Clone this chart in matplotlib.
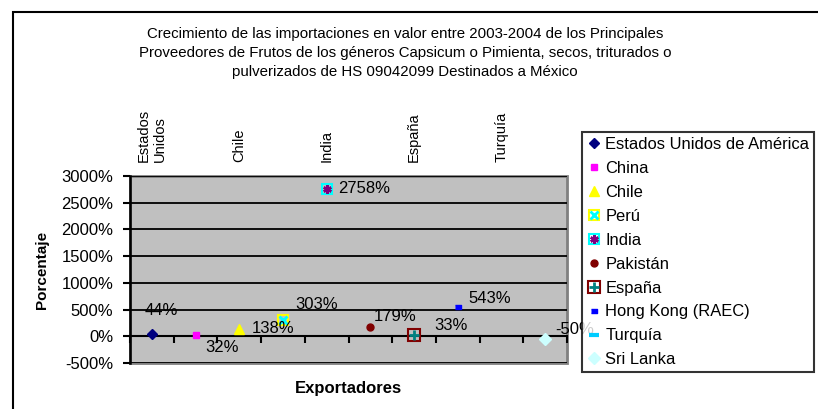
import numpy as np
import matplotlib
matplotlib.use('Agg')
import matplotlib.pyplot as plt
from matplotlib.lines import Line2D
from matplotlib.patches import Rectangle
from matplotlib.legend_handler import HandlerTuple

plt.rcParams['font.family'] = ['Liberation Sans', 'DejaVu Sans']

# data
countries = ['Estados Unidos de América', 'China', 'Chile', 'Perú', 'India',
             'Pakistán', 'España', 'Hong Kong (RAEC)', 'Turquía', 'Sri Lanka']
growth = [44, 32, 138, 303, 2758, 179, 33, 543, np.nan, -50]
axis_names = ['Estados\nUnidos', 'China', 'Chile', 'Perú', 'India',
              'Pakistán', 'España', 'Hong Kong', 'Turquía', 'Sri Lanka']
y_ticks = [-500, 0, 500, 1000, 1500, 2000, 2500, 3000]

title = ('Crecimiento de las importaciones en valor entre 2003-2004 de los Principales\n'
         'Proveedores de Frutos de los géneros Capsicum o Pimienta, secos, triturados o\n'
         'pulverizados de HS 09042099 Destinados a México')

# marker styles per series: list of (marker, size, face, edge, edgewidth)
styles = [
    [('D', 5.5, '#000080', '#000080', 1)],
    [('s', 5, '#FF00FF', '#FF00FF', 1)],
    [('^', 7, '#FFFF00', '#FFFF00', 1)],
    [('s', 7, 'none', '#FFFF00', 1.5), ('x', 5.5, '#00FFFF', '#00FFFF', 2)],
    [('s', 7.5, 'none', '#00FFFF', 1.5), ((6, 2, 0), 6, '#800080', '#800080', 1.8)],
    [('o', 5, '#800000', '#800000', 1)],
    [('s', 8, 'none', '#800000', 1.5), ('+', 6.5, '#008080', '#008080', 2)],
    [([(-1, -0.6), (1, -0.6), (1, 0.6), (-1, 0.6)], 5, '#0000FF', '#0000FF', 1)],
    [('_', 7, '#00CCFF', '#00CCFF', 3)],
    [('D', 6, '#CCFFFF', '#CCFFFF', 1)],
]
# label offsets in pixels (dx, dy)
label_off = [(9, 23), (27, -13), (34, 0), (34, 16), (37, 0),
             (25, 10), (37, 9), (32, 9), (0, 0), (30, 9)]

W, H = 818, 409
fig = plt.figure(figsize=(W / 100, H / 100), dpi=100)
fig.patch.set_facecolor('white')

ax = fig.add_axes([130 / W, 1 - 363 / H, 437 / W, 187 / H])
ax.set_facecolor('#C0C0C0')
ax.set_xlim(-0.5, 9.5)
ax.set_ylim(-500, 3000)

ax.set_yticks(y_ticks)
ax.set_yticklabels([f'{t}%' for t in y_ticks])
ax.tick_params(axis='y', direction='out', length=5, width=1.5, labelsize=12, pad=7)
for t in y_ticks:
    ax.axhline(t, color='black', lw=1.3, zorder=1)

for s in ['top', 'right']:
    ax.spines[s].set_visible(False)
ax.spines['left'].set_linewidth(1.8)
ax.spines['bottom'].set_position(('data', 0))
ax.spines['bottom'].set_linewidth(1.5)
ax.set_xticks(np.arange(-0.5, 10, 1))
ax.set_xticklabels([])
ax.tick_params(axis='x', direction='out', length=5, width=1.5)
ax.add_patch(Rectangle((0, 0), 1, 1, transform=ax.transAxes, fill=False,
                       ec='#808080', lw=2, zorder=0.5, clip_on=False))

top = ax.secondary_xaxis('top')
top.set_xticks(np.arange(0, 10, 2))
top.set_xticklabels(axis_names[::2], rotation=90, fontsize=10.5)
top.tick_params(length=0, pad=10)
for lab in top.get_xticklabels():
    lab.set_multialignment('left')
top.spines['top'].set_visible(False)

x = np.arange(len(countries))
for i, (v, st) in enumerate(zip(growth, styles)):
    if np.isnan(v):
        continue
    for m, ms, fc, ec, mew in st:
        ax.plot(x[i], v, marker=m, ms=ms, mfc=fc, mec=ec, mew=mew, ls='none',
                zorder=3, clip_on=False)
    dx, dy = label_off[i]
    ax.annotate(f'{v:.0f}%', (x[i], v), xytext=(dx * 0.72, dy * 0.72),
                textcoords='offset points', ha='center', va='center', fontsize=12,
                zorder=4)

fig.text(42 / W, 1 - 270 / H, 'Porcentaje', rotation=90, ha='center', va='center',
         fontsize=11, fontweight='bold')
fig.text(348 / W, 1 - 389 / H, 'Exportadores', ha='center', va='center',
         fontsize=12, fontweight='bold')
fig.text(405 / W, 1 - 53 / H, title, ha='center', va='center', fontsize=10.8,
         linespacing=1.42)

fig.patches.append(Rectangle((13 / W, -0.1), 1.2, 1.1 - 12 / H, transform=fig.transFigure,
                             fill=False, ec='black', lw=1.5))

handles = []
for st in styles:
    hs = tuple(Line2D([], [], marker=m, ms=ms, mfc=fc, mec=ec, mew=mew, ls='none')
               for m, ms, fc, ec, mew in st)
    handles.append(hs if len(hs) > 1 else hs[0])
leg = fig.legend(handles, countries, loc='upper left',
                 bbox_to_anchor=(582 / W, 1 - 132 / H), bbox_transform=fig.transFigure,
                 fontsize=11.9, frameon=True, fancybox=False, edgecolor='black',
                 handlelength=0.8, handletextpad=0.3, labelspacing=0.54,
                 borderpad=0.3, borderaxespad=0,
                 handler_map={tuple: HandlerTuple(ndivide=1, pad=0)})
leg.get_frame().set_linewidth(1.5)
leg.set_zorder(10)

fig.savefig('out.png', dpi=100)
